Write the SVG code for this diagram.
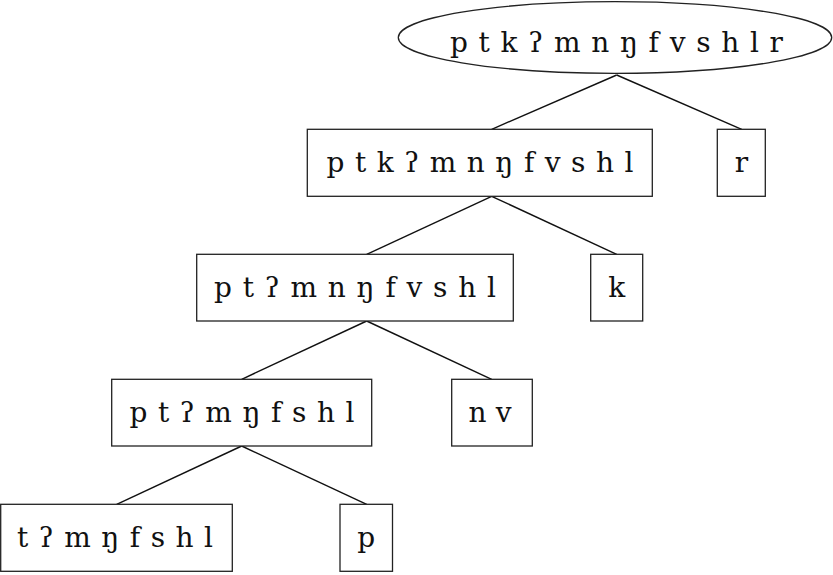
<svg xmlns="http://www.w3.org/2000/svg" width="833" height="575" viewBox="0 0 833 575">
<style>
.n{fill:#fff;stroke:#222;stroke-width:1.3}
.t{font-family:"DejaVu Serif","Liberation Serif",serif;font-size:28px;fill:#111;text-anchor:middle}
.c line{stroke:#111;stroke-width:1.4}
</style>
<rect width="833" height="575" fill="#fff"/>
<g class="c" id="connectors">
<line x1="616.7" y1="75" x2="491.7" y2="129.3"/>
<line x1="616.7" y1="75" x2="741.7" y2="129.3"/>
<line x1="491.7" y1="196.3" x2="366.7" y2="254.3"/>
<line x1="491.7" y1="196.3" x2="616.7" y2="254.3"/>
<line x1="366.7" y1="321" x2="241.7" y2="379.3"/>
<line x1="366.7" y1="321" x2="491.7" y2="379.3"/>
<line x1="241.7" y1="446" x2="116.7" y2="504.3"/>
<line x1="241.7" y1="446" x2="366.7" y2="504.3"/>
</g>
<g id="root">
<ellipse class="n" cx="615" cy="37.5" rx="216.7" ry="35.8"/>
<text class="t" x="616.5" y="51.7" textLength="333" lengthAdjust="spacing">p t k ʔ m n ŋ f v s h l r</text>
</g>
<g id="n1">
<rect class="n" x="307.3" y="129.3" width="345" height="67"/>
<text class="t" x="480" y="171.7" textLength="307" lengthAdjust="spacing">p t k ʔ m n ŋ f v s h l</text>
</g>
<g id="r">
<rect class="n" x="717.3" y="129.3" width="48" height="67"/>
<text class="t" x="741.5" y="171.7">r</text>
</g>
<g id="n2">
<rect class="n" x="196.7" y="254.3" width="316.6" height="66.7"/>
<text class="t" x="355" y="296.7" textLength="282" lengthAdjust="spacing">p t ʔ m n ŋ f v s h l</text>
</g>
<g id="k">
<rect class="n" x="590.7" y="254.3" width="52" height="66.7"/>
<text class="t" x="616.7" y="296.7">k</text>
</g>
<g id="n3">
<rect class="n" x="111.7" y="379.3" width="260" height="66.7"/>
<text class="t" x="242" y="421.7" textLength="225" lengthAdjust="spacing">p t ʔ m ŋ f s h l</text>
</g>
<g id="nv">
<rect class="n" x="451.7" y="379.3" width="80.6" height="66.7"/>
<text class="t" x="490" y="421.7" textLength="43" lengthAdjust="spacing">n v</text>
</g>
<g id="n4">
<rect class="n" x="0.7" y="504.3" width="231.6" height="67"/>
<text class="t" x="115" y="546.7" textLength="196" lengthAdjust="spacing">t ʔ m ŋ f s h l</text>
</g>
<g id="p">
<rect class="n" x="340" y="504.3" width="52.5" height="67"/>
<text class="t" x="366.2" y="546.7">p</text>
</g>
</svg>
